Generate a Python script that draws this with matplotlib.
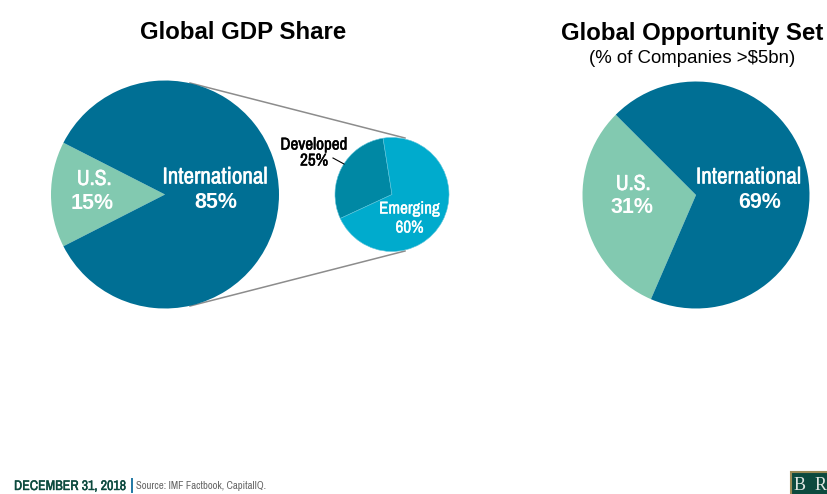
import matplotlib
matplotlib.use("Agg")
import matplotlib.pyplot as plt
import matplotlib.patheffects as pe
from matplotlib.patches import Rectangle
import logging
logging.getLogger("matplotlib.font_manager").setLevel(logging.ERROR)

W, H = 828, 494

gdp_labels = ["U.S.", "International"]
gdp_values = [15, 85]
breakdown_labels = ["Developed", "Emerging"]
breakdown_values = [25, 60]
opp_labels = ["U.S.", "International"]
opp_values = [31, 69]

NARROW = ["Archivo Narrow", "Roboto Condensed", "Lato", "Liberation Sans"]
ARIAL = ["Liberation Sans", "DejaVu Sans"]

C_INTL = "#006f94"
C_US = "#82c9b0"
C_DEV = "#0088a4"
C_EM = "#00abcd"
C_GREEN = "#0c4a3e"


def py(y):
    # reference pixels run top-down, axes run bottom-up
    return H - y


fig = plt.figure(figsize=(W / 100, H / 100), dpi=100)
ax = fig.add_axes([0, 0, 1, 1])

# connector lines go under the pies
ax.plot([190, 405], [py(83), py(138)], color="#8c8c8c", lw=1.1, zorder=0)
ax.plot([190, 405], [py(306), py(251)], color="#8c8c8c", lw=1.1, zorder=0)

ax.pie(gdp_values, colors=[C_US, C_INTL], startangle=153, center=(165, py(194.5)),
       radius=114, wedgeprops={"linewidth": 0})
ax.pie(breakdown_values, colors=[C_DEV, C_EM], startangle=99, center=(392, py(194.5)),
       radius=57, wedgeprops={"linewidth": 0.4, "edgecolor": "#5fc4da"})
ax.pie(opp_values, colors=[C_US, C_INTL], startangle=135, center=(696, py(195)),
       radius=113.5, wedgeprops={"linewidth": 0})

ax.set_xlim(0, W)
ax.set_ylim(0, H)
ax.set_aspect("equal")
ax.axis("off")


def label(x, y, s, size, color="white", stroke=0.35):
    # the narrow font only comes in regular, a thin stroke thickens it to bold
    ax.text(x, py(y), s, fontsize=size, color=color, family=NARROW, ha="center", va="center",
            path_effects=[pe.withStroke(linewidth=stroke, foreground=color)])


def wide(x, y, s, size, color="white"):
    ax.text(x, py(y), s, fontsize=size, color=color, family=ARIAL, weight="bold",
            ha="center", va="center")


wide(243, 32, "Global GDP Share", 17.3, "black")
wide(692, 33, "Global Opportunity Set", 17.3, "black")
ax.text(692, py(58), r"(% of Companies >\$5bn)", fontsize=13.4, color="black",
        family=ARIAL, ha="center", va="center")

label(94, 179, gdp_labels[0], 15.7)
wide(92, 203, f"{gdp_values[0]}%", 15.5)
label(215, 177, gdp_labels[1], 16.6)
wide(216, 202, f"{gdp_values[1]}%", 15.5)

label(314, 145, breakdown_labels[0], 12.3, "black", 0.35)
label(314, 161, f"{breakdown_values[0]}%", 12.3, "black", 0.35)
ax.plot([333, 344], [py(158), py(164)], color="black", lw=0.8)
label(409.5, 209, breakdown_labels[1], 12.3, "white", 0.25)
label(409.5, 228, f"{breakdown_values[1]}%", 12.3, "white", 0.25)

label(633, 184, opp_labels[0], 15.7)
wide(632, 207, f"{opp_values[0]}%", 15.5)
label(748.5, 177, opp_labels[1], 16.6)
wide(760, 202, f"{opp_values[1]}%", 15.5)

# footer
ax.text(14, py(486), "DECEMBER 31, 2018", fontsize=10, color=C_GREEN, family=NARROW,
        ha="left", va="center", path_effects=[pe.withStroke(linewidth=0.3, foreground=C_GREEN)])
ax.plot([132, 132], [py(479), py(492)], color="#1f78a4", lw=1.4)
ax.text(136, py(486), "Source: IMF Factbook, CapitalIQ.", fontsize=7.7, color="#666666",
        family=NARROW, ha="left", va="center")

# logo, runs off the right edge
ax.add_patch(Rectangle((791, -5), 45, py(472) + 5, facecolor=C_GREEN, edgecolor="#9a8a55", lw=1.5))
ax.text(800, py(485), "B", fontsize=13, color="#dfe6e2", family="Liberation Serif", ha="center", va="center")
ax.text(821, py(485), "R", fontsize=13, color="#dfe6e2", family="Liberation Serif", ha="center", va="center")

fig.savefig("out.png", dpi=100)
